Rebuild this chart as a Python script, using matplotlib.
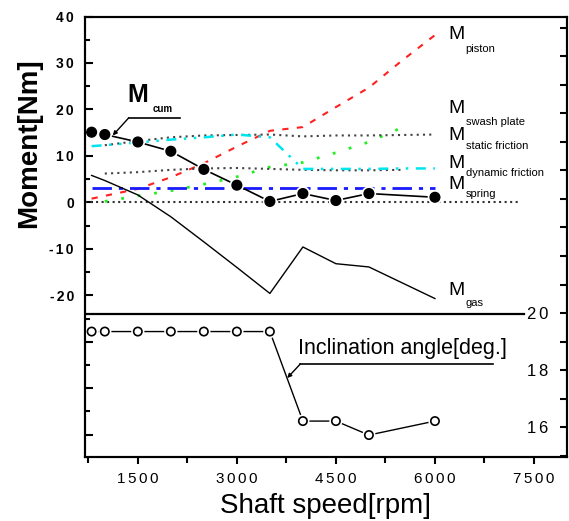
import matplotlib
matplotlib.use("Agg")
import matplotlib.pyplot as plt
import matplotlib.patheffects as pe
from matplotlib.ticker import MultipleLocator, FuncFormatter

plt.rcParams["font.family"] = ["Liberation Sans", "DejaVu Sans"]

# moments [Nm] vs shaft speed [rpm]
cum_x = [800, 1000, 1500, 2000, 2500, 3000, 3500, 4000, 4500, 5000, 6000]
cum_y = [15.1, 14.6, 13.0, 11.0, 7.1, 3.7, 0.2, 1.9, 0.4, 1.9, 1.1]

gas_x = [800, 1000, 1500, 2000, 2500, 3000, 3500, 4000, 4500, 5000, 6000]
gas_y = [5.8, 4.7, 1.6, -3.1, -8.5, -14.0, -19.6, -9.6, -13.2, -13.9, -20.7]

piston_x = [800, 1000, 1500, 2000, 2500, 3000, 3500, 4000, 4500, 5000, 5500, 6000]
piston_y = [0.8, 1.4, 2.9, 5.4, 8.4, 12.0, 15.4, 16.2, 20.5, 24.7, 30.5, 36.0]

swash_x = [1000, 1500, 2000, 2500, 3000, 3500, 4000, 4500, 5000, 5500]
swash_y = [0.2, 1.4, 2.5, 3.9, 5.5, 7.6, 8.6, 10.7, 13.0, 16.1]

static_x = [1000, 1500, 2000, 2500, 3000, 3500, 4000, 4500, 5000, 5500, 6000]
static_y = [12.3, 13.2, 14.0, 14.4, 14.5, 14.6, 14.2, 14.4, 14.4, 14.5, 14.6]

dynamic_x = [1000, 1500, 2000, 2500, 3000, 3500, 4000, 4500, 5000, 5500]
dynamic_y = [6.2, 6.5, 7.0, 7.3, 7.4, 7.2, 7.0, 6.9, 6.9, 7.0]

friction_x = [800, 1000, 1500, 2000, 2500, 3000, 3500, 4000, 4500, 5000, 5500, 6000]
friction_y = [12.1, 12.3, 12.9, 13.5, 14.0, 14.6, 14.0, 7.2, 7.2, 7.2, 7.3, 7.3]

spring_x = [800, 6000]
spring_y = [3.1, 3.1]

# inclination angle [deg]
angle_x = [800, 1000, 1500, 2000, 2500, 3000, 3500, 4000, 4500, 5000, 6000]
angle_y = [19.35, 19.35, 19.35, 19.35, 19.35, 19.35, 19.35, 16.21, 16.21, 15.72, 16.21]

x_ticks = [1500, 3000, 4500, 6000, 7500]

fig = plt.figure(figsize=(5.69, 5.21), dpi=100)
ax = fig.add_axes([85 / 569, 64 / 521, 482 / 569, 440.5 / 521])
ax2 = ax.twinx()

halo = [pe.Stroke(linewidth=3.5, foreground="white"), pe.Normal()]
sp = "\u2006"

ax.plot([700, 7300], [0, 0], color="#333333", ls=":", lw=1.5)
ax.plot(piston_x, piston_y, color="#ff2020", ls=(0, (3, 4)), lw=1.5)
ax.plot(swash_x, swash_y, color="#22ee22", ls=(0, (1, 5)), lw=2)
ax.plot(static_x, static_y, color="#444444", ls=(0, (1, 2)), lw=1.5)
ax.plot(dynamic_x, dynamic_y, color="#444444", ls=(0, (1, 2)), lw=1.5)
ax.plot(friction_x, friction_y, color="#00e5ee", ls=(0, (4, 3, 1, 3, 1, 3)), lw=1.8)
ax.plot(spring_x, spring_y, color="#1a1aff", ls=(0, (7, 2.5, 1.5, 2.5)), lw=2)
ax.plot(gas_x, gas_y, color="black", lw=1)
ax.plot(cum_x, cum_y, color="black", lw=1.2)
ax.plot(cum_x, cum_y, ls="none", marker="o", ms=7, color="black", path_effects=halo)
ax.plot([700, 7350], [-24, -24], color="black", lw=1.6)

ax2.plot(angle_x, angle_y, color="black", lw=1)
ax2.plot(angle_x, angle_y, ls="none", marker="o", ms=6, mfc="white", mec="black", mew=1.2,
         path_effects=halo)

ax.set_xlim(700, 8000)
ax.set_ylim(-54.8, 40)
ax2.set_ylim(14.95, 30.4)

# annotations
ax.text(1492, 23.2, "M", fontsize=18, fontweight="bold", ha="center", va="center")
ax.text(1880, 20.2, "cum", fontsize=7, fontweight="bold", ha="center", va="center")
ax.plot([2138, 1363], [18.2, 18.2], color="black", lw=1.2)
ax.annotate("", xy=(1120, 14.4), xytext=(1363, 18.2),
            arrowprops=dict(arrowstyle="-|>", color="black", lw=1, mutation_scale=6, shrinkA=0, shrinkB=0))

labels = [("piston", 36.1, 32.9), ("swash plate", 20.3, 17.3), ("static friction", 14.4, 12.1),
          ("dynamic friction", 8.4, 6.3), ("spring", 3.8, 1.9), ("gas", -18.9, -21.7)]
for sub, ym, ys in labels:
    ax.text(6209, ym, "M", fontsize=14, ha="left", va="center")
    ax.text(6467, ys, sub, fontsize=8, ha="left", va="center")

ax2.text(5510, 18.77, "Inclination angle[deg.]", fontsize=15.5, ha="center", va="center")
ax2.plot([6873, 3960], [18.21, 18.21], color="black", lw=1.2)
ax2.annotate("", xy=(3763, 17.72), xytext=(3960, 18.21),
             arrowprops=dict(arrowstyle="-|>", color="black", lw=1, mutation_scale=6, shrinkA=0, shrinkB=0))

# axes styling
for a in (ax, ax2):
    for s in a.spines.values():
        s.set_linewidth(1.5)

ax.xaxis.set_major_locator(plt.FixedLocator(x_ticks))
ax.xaxis.set_minor_locator(MultipleLocator(750))
ax.xaxis.set_major_formatter(FuncFormatter(lambda v, p: sp.join(str(int(v)))))
ax.tick_params(axis="x", which="major", direction="out", length=5, width=1.5, labelsize=11, pad=6)
ax.tick_params(axis="x", which="minor", direction="out", length=4, width=1.5)

ax.yaxis.set_major_locator(MultipleLocator(10))
ax.yaxis.set_minor_locator(MultipleLocator(5))
ax.yaxis.set_major_formatter(FuncFormatter(lambda v, p: sp.join(f"{v:.0f}") if v >= -20 else ""))
ax.tick_params(axis="y", which="major", direction="in", length=6, width=1.5, labelsize=10, pad=8)
ax.tick_params(axis="y", which="minor", direction="in", length=3.5, width=1.5)
for t in ax.get_yticklabels():
    t.set_fontweight("bold")

ax2.yaxis.set_major_locator(MultipleLocator(1))
ax2.yaxis.set_major_formatter(FuncFormatter(lambda v, p: sp.join(f"{v:.0f}") if round(v) in (16, 18, 20) else ""))
ax2.tick_params(axis="y", direction="in", length=5, width=1.5, labelsize=12, pad=-29)

ax.set_xlabel("Shaft speed[rpm]", fontsize=20, labelpad=5)
fig.text(29.5 / 569, 1 - 143 / 521, "Moment[Nm]", fontsize=20, fontweight="bold",
         rotation=90, ha="center", va="center")

fig.savefig("out.png", dpi=100)
